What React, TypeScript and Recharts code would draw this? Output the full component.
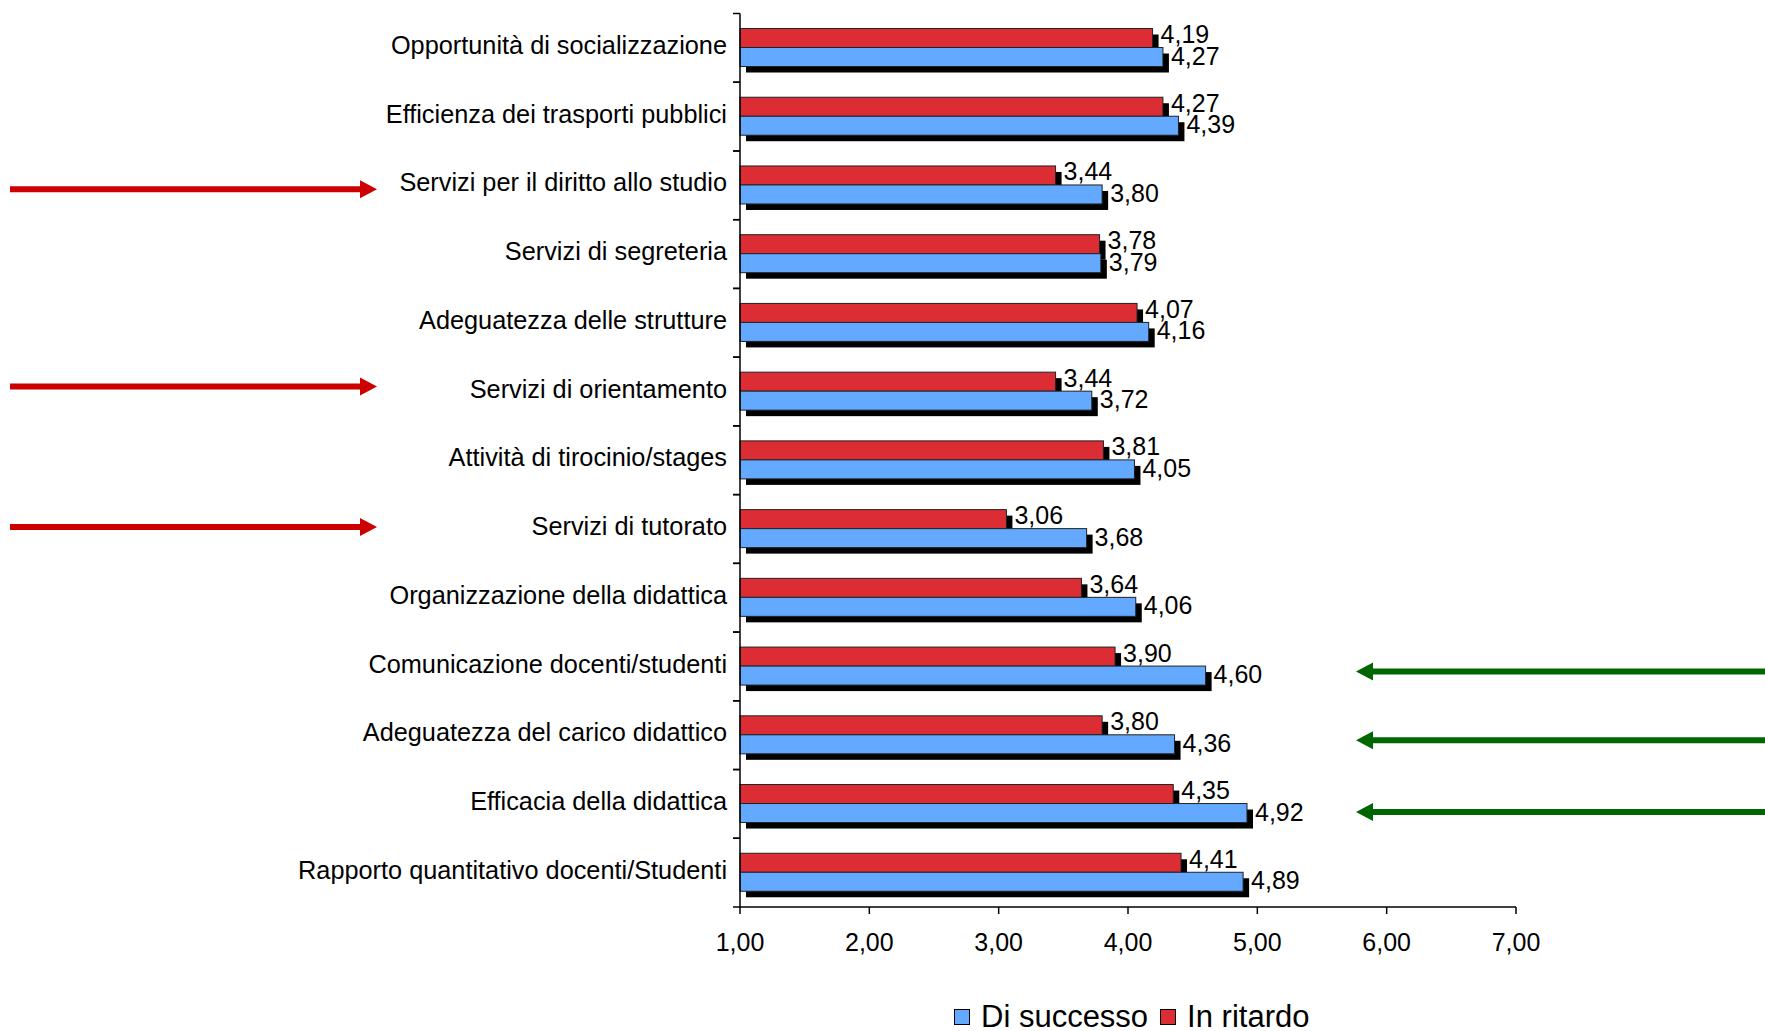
import React from "react";
import { BarChart, Bar, XAxis, YAxis, LabelList } from "recharts";

// voti medi per aspetto, studenti in ritardo vs di successo
const categories = [
  "Opportunità di socializzazione",
  "Efficienza dei trasporti pubblici",
  "Servizi per il diritto allo studio",
  "Servizi di segreteria",
  "Adeguatezza delle strutture",
  "Servizi di orientamento",
  "Attività di tirocinio/stages",
  "Servizi di tutorato",
  "Organizzazione della didattica",
  "Comunicazione docenti/studenti",
  "Adeguatezza del carico didattico",
  "Efficacia della didattica",
  "Rapporto quantitativo docenti/Studenti",
];
const inRitardo = [4.19, 4.27, 3.44, 3.78, 4.07, 3.44, 3.81, 3.06, 3.64, 3.9, 3.8, 4.35, 4.41];
const diSuccesso = [4.27, 4.39, 3.8, 3.79, 4.16, 3.72, 4.05, 3.68, 4.06, 4.6, 4.36, 4.92, 4.89];
const xTicks = [1, 2, 3, 4, 5, 6, 7];

// aspetti evidenziati con le frecce (dy = piccolo spostamento verticale della freccia)
const criticita: Record<string, number> = {
  "Servizi per il diritto allo studio": 4,
  "Servizi di orientamento": -5,
  "Servizi di tutorato": -2,
};
const puntiForza: Record<string, number> = {
  "Comunicazione docenti/studenti": 5,
  "Adeguatezza del carico didattico": 5,
  "Efficacia della didattica": 8,
};

const data = categories.map((name, i) => ({
  name,
  ritardo: inRitardo[i],
  successo: diSuccesso[i],
}));

const W = 1765;
const H = 1031;
const TOP = 13.5;
const AXIS_X = 740;
const X_AXIS_H = 124;
const BAND = (H - X_AXIS_H - TOP) / categories.length;
const FONT = "'Liberation Sans', Arial, sans-serif";
const RED = "#DD2D34";
const BLUE = "#62A9FF";

const fmt = (v: number) => v.toFixed(2).replace(".", ",");

const ShadowBar = (props: any) => {
  const { x, y, width, height, fill } = props;
  if (width == null || width <= 0) return null;
  return (
    <g>
      <rect x={x + 6} y={y + 6} width={width} height={height} fill="#000" />
      <rect x={x} y={y} width={width} height={height} fill={fill} stroke="#222" strokeWidth={1} />
    </g>
  );
};

const makeLabel = (shift: number) => (props: any) => {
  const { x, y, width, height, value } = props;
  return (
    <text
      x={x + width + 8}
      y={y + height / 2 + shift}
      dy="0.36em"
      fontSize={25}
      fontFamily={FONT}
      fill="#000"
    >
      {fmt(Number(value))}
    </text>
  );
};
const RitardoLabel = makeLabel(-4);
const SuccessoLabel = makeLabel(-1.5);

const Arrow = ({ x1, x2, y, color }: { x1: number; x2: number; y: number; color: string }) => {
  const dir = x2 > x1 ? 1 : -1;
  const head = 17;
  return (
    <g>
      <line x1={x1} y1={y} x2={x2 - dir * head} y2={y} stroke={color} strokeWidth={6} />
      <polygon
        points={`${x2},${y} ${x2 - dir * head},${y - 9} ${x2 - dir * head},${y + 9}`}
        fill={color}
      />
    </g>
  );
};

const CategoryTick = (props: any) => {
  const { y, payload } = props;
  const name: string = payload.value;
  const top = y - BAND / 2;
  const bottom = y + BAND / 2;
  return (
    <g>
      <line x1={AXIS_X - 7} y1={top} x2={AXIS_X} y2={top} stroke="#000" strokeWidth={1.5} />
      <line x1={AXIS_X - 7} y1={bottom} x2={AXIS_X} y2={bottom} stroke="#000" strokeWidth={1.5} />
      <text
        x={AXIS_X - 13}
        y={y - 3}
        dy="0.36em"
        textAnchor="end"
        fontSize={25.3}
        fontFamily={FONT}
        fill="#000"
      >
        {name}
      </text>
      {name in criticita && <Arrow x1={10} x2={377} y={y + criticita[name]} color="#CC0000" />}
      {name in puntiForza && <Arrow x1={W} x2={1356} y={y + puntiForza[name]} color="#006600" />}
    </g>
  );
};

const legendItems = [
  { label: "Di successo", color: BLUE },
  { label: "In ritardo", color: RED },
];

export default function App() {
  return (
    <div style={{ position: "absolute", left: 0, top: 0, width: W, height: H, background: "#fff" }}>
      <BarChart
        width={W}
        height={H}
        data={data}
        layout="vertical"
        margin={{ top: TOP, right: W - 1516, left: 0, bottom: 0 }}
        barSize={19}
        barGap={0}
      >
        <XAxis
          type="number"
          domain={[1, 7]}
          ticks={xTicks}
          tickFormatter={fmt}
          height={X_AXIS_H}
          tickSize={7}
          tickMargin={19}
          axisLine={{ stroke: "#000", strokeWidth: 1.5 }}
          tickLine={{ stroke: "#000", strokeWidth: 1.5 }}
          tick={{ fill: "#000", fontSize: 25, fontFamily: FONT }}
        />
        <YAxis
          type="category"
          dataKey="name"
          width={AXIS_X}
          interval={0}
          tickLine={false}
          axisLine={{ stroke: "#000", strokeWidth: 1.5 }}
          tick={<CategoryTick />}
        />
        <Bar dataKey="ritardo" name="In ritardo" fill={RED} shape={<ShadowBar />} isAnimationActive={false}>
          <LabelList dataKey="ritardo" content={<RitardoLabel />} />
        </Bar>
        <Bar dataKey="successo" name="Di successo" fill={BLUE} shape={<ShadowBar />} isAnimationActive={false}>
          <LabelList dataKey="successo" content={<SuccessoLabel />} />
        </Bar>
      </BarChart>
      <div
        style={{
          position: "absolute",
          left: 954,
          top: 999,
          display: "flex",
          alignItems: "center",
          fontFamily: FONT,
          fontSize: 31,
          color: "#000",
          lineHeight: "36px",
        }}
      >
        {legendItems.map((it) => (
          <div key={it.label} style={{ display: "flex", alignItems: "center", marginRight: 12 }}>
            <span
              style={{
                display: "inline-block",
                width: 14,
                height: 14,
                background: it.color,
                border: "1px solid #000",
                marginRight: 11,
              }}
            />
            <span>{it.label}</span>
          </div>
        ))}
      </div>
    </div>
  );
}
